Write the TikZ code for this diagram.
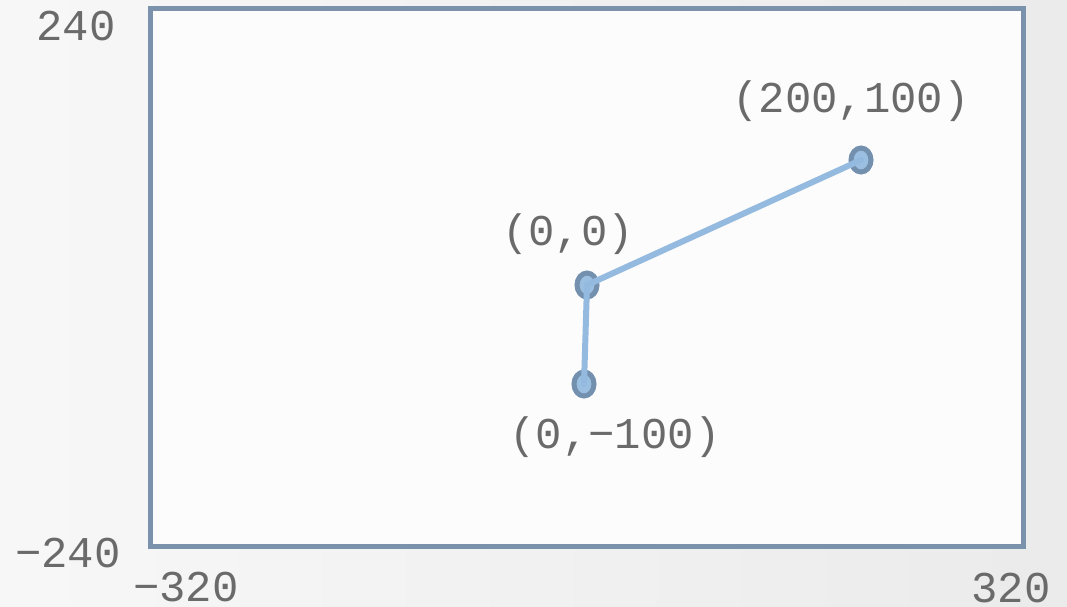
\documentclass[tikz,border=0pt]{standalone}
\usepackage{fontspec}
\setmonofont{Liberation Mono}
\usepackage{tikz}
\usetikzlibrary{shapes.geometric}

\definecolor{framecol}{HTML}{7A92AC}
\definecolor{linecol}{HTML}{94BADF}
\definecolor{dotcol}{HTML}{9BBFE0}
\definecolor{dotedge}{HTML}{7390AE}
\definecolor{txtcol}{HTML}{6A6A6A}

\begin{document}
\begin{tikzpicture}[
x=0.02cm, y=-0.02cm,
lbl/.style={text=txtcol, font=\ttfamily\fontsize{25}{25}\selectfont, inner sep=0pt},
pt/.style={ellipse, draw=dotedge, fill=dotcol, line width=0.1cm, minimum width=0.4cm, minimum height=0.48cm, inner sep=0pt},
seg/.style={draw=linecol, line width=0.12cm, line cap=round}
]
\useasboundingbox (0,0) rectangle (1067,606);
\shade[left color=white!97!black, right color=white!92!black] (0,0) rectangle (1067,606);
\draw[framecol, fill=white!99!black, line width=0.1cm] (150,8) rectangle (1023,546);

% axis limits
\node[lbl] (ytop) at (76,26) {240};
\node[lbl] (ybot) at (68,553) {\char"2212 240};
\node[lbl] (xleft) at (186,587) {\char"2212 320};
\node[lbl] (xright) at (1011,588) {320};

% points
\node[pt] (o) at (587,285) {};
\node[pt] (p) at (861,160) {};
\node[pt] (q) at (584,384) {};

\draw[seg] (o.center) -- (p.center);
\draw[seg] (o.center) -- (q.center);

\node[lbl] (plbl) at (851,101) {(200,100)};
\node[lbl] (olbl) at (568,234) {(0,0)};
\node[lbl] (qlbl) at (615,437) {(0,\char"2212 100)};
\end{tikzpicture}
\end{document}
